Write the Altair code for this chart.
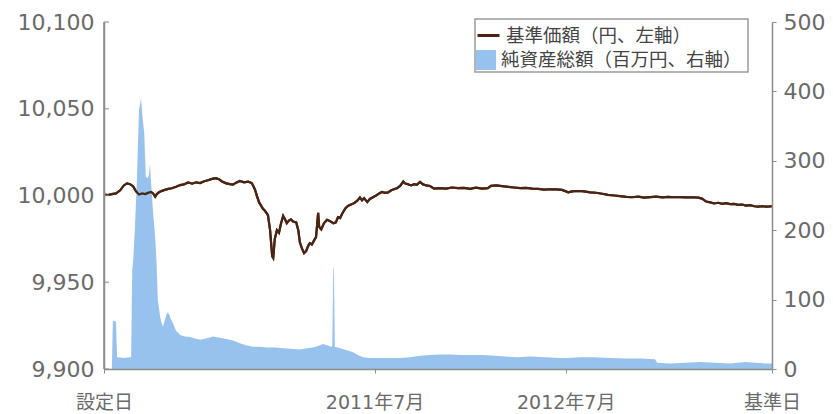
import altair as alt
import pandas as pd

# ---- data (x = days elapsed since 設定日) ----
price_day = [0, 8, 15, 23, 31, 38, 44, 50, 56, 61, 67, 73, 79, 84, 90, 94, 98, 101, 107, 115,
             123, 130, 138, 146, 153, 161, 169, 176, 184, 192, 199, 207, 214, 220, 226, 234, 241, 247, 253, 260,
             268, 276, 283, 289, 293, 297, 301, 304, 308, 312, 314, 318, 322, 324, 327, 331, 335, 339, 343, 347,
             350, 354, 358, 362, 368, 372, 375, 379, 383, 387, 391, 394, 398, 402, 406, 410, 412, 416, 421, 427,
             433, 439, 444, 448, 452, 456, 462, 467, 473, 479, 485, 490, 494, 498, 504, 509, 515, 521, 527, 532,
             538, 544, 550, 555, 561, 567, 573, 576, 582, 588, 594, 599, 605, 611, 617, 624, 632, 643, 655, 666,
             678, 689, 701, 712, 724, 735, 741, 751, 762, 774, 785, 797, 808, 820, 831, 843, 854, 866, 877, 889,
             896, 908, 919, 931, 942, 954, 965, 977, 988, 1000, 1011, 1023, 1034, 1046, 1057, 1069, 1080, 1092, 1103, 1115,
             1126, 1138, 1145, 1153, 1161, 1168, 1176, 1184, 1191, 1199, 1207, 1214, 1222, 1229, 1237, 1245, 1252, 1260, 1268, 1275,
             1279]
price_value = [10000.5, 10000.3, 10000.8, 10001.2, 10003.0, 10005.8, 10007.0, 10006.5, 10005.2, 10002.6,
               10000.6, 10001.2, 10000.8, 10001.5, 10002.0, 10001.2, 9999.3, 10000.8, 10002.2, 10003.1,
               10003.8, 10004.2, 10005.0, 10006.0, 10006.4, 10007.5, 10006.8, 10007.6, 10007.2, 10008.2,
               10008.8, 10009.6, 10010.0, 10009.4, 10008.1, 10007.0, 10006.6, 10006.3, 10007.4, 10008.4,
               10007.6, 10008.0, 10007.2, 10003.5, 9999.5, 9996.0, 9994.0, 9992.5, 9991.2, 9989.5,
               9988.5, 9980.0, 9965.0, 9964.0, 9975.0, 9980.0, 9978.5, 9984.0, 9988.2, 9986.0,
               9984.0, 9985.5, 9986.2, 9985.0, 9984.5, 9980.0, 9973.0, 9969.5, 9966.8, 9968.0,
               9971.0, 9972.5, 9971.8, 9974.0, 9976.0, 9990.0, 9982.0, 9980.5, 9984.0, 9986.0,
               9985.2, 9984.0, 9984.5, 9987.5, 9987.0, 9989.5, 9992.5, 9994.0, 9994.8, 9995.6,
               9997.0, 9998.8, 9997.2, 9998.5, 9996.2, 9998.0, 9999.0, 10000.0, 10001.2, 10002.0,
               10001.5, 10001.8, 10003.0, 10003.6, 10004.2, 10005.5, 10008.0, 10007.0, 10006.5, 10005.8,
               10006.5, 10006.2, 10007.8, 10006.4, 10005.8, 10005.5, 10004.0, 10004.2, 10004.0, 10004.6,
               10004.2, 10004.4, 10003.8, 10004.5, 10004.0, 10004.2, 10005.6, 10005.8, 10005.4, 10005.0,
               10004.6, 10004.2, 10004.4, 10004.0, 10003.8, 10003.4, 10003.6, 10003.5, 10003.2, 10001.8,
               10002.4, 10002.6, 10002.4, 10001.8, 10001.6, 10001.0, 10000.4, 10000.0, 9999.6, 9999.2,
               9999.0, 9999.3, 9998.8, 9999.1, 9999.3, 9998.9, 9999.2, 9999.0, 9999.1, 9998.9,
               9999.0, 9998.8, 9998.2, 9996.5, 9996.0, 9995.4, 9995.8, 9995.2, 9995.6, 9995.0,
               9995.2, 9994.6, 9994.8, 9994.2, 9994.4, 9993.8, 9993.6, 9993.8, 9993.6, 9993.7,
               9993.8]

nav_day = [15, 17, 23, 25, 38, 50, 52, 54, 56, 59, 63, 67, 71, 73, 75, 77, 79, 80, 84, 86,
           88, 90, 92, 94, 98, 101, 103, 107, 109, 113, 117, 121, 124, 128, 132, 138, 146, 155, 165, 174,
           184, 195, 209, 222, 236, 247, 260, 274, 285, 299, 312, 327, 343, 356, 375, 389, 400, 410, 419, 429,
           435, 437, 439, 440, 442, 452, 465, 477, 486, 496, 509, 529, 548, 567, 586, 605, 624, 643, 663, 682,
           701, 726, 749, 768, 791, 816, 845, 873, 887, 912, 940, 969, 998, 1026, 1055, 1059, 1084, 1113, 1141, 1170,
           1199, 1228, 1247, 1266, 1279]
nav_value = [0, 70, 68, 17, 16, 17, 18, 143, 157, 200, 272, 373, 390, 370, 354, 340, 300, 277, 275, 280,
             295, 270, 248, 225, 190, 147, 99, 78, 70, 61, 72, 81, 80, 72, 66, 55, 49, 47, 46, 44,
             42, 44, 47, 45, 43, 41, 37, 34, 32, 32, 31, 31, 30, 29, 28, 30, 31, 33, 36, 34,
             32, 33, 146, 146, 32, 30, 27, 24, 20, 17, 16, 16, 16, 16, 17, 19, 20, 21, 21, 20,
             20, 20, 19, 18, 17, 18, 17, 16, 16, 17, 17, 16, 15, 15, 14, 9, 8, 9, 10, 9,
             8, 10, 9, 8, 8]

series_names = ["基準価額（円、左軸）", "純資産総額（百万円、右軸）"]
x_tick_values = [0, 518, 884, 1279]
x_tick_labels = ["設定日", "2011年7月", "2012年7月", "基準日"]
left_ticks = [9900, 9950, 10000, 10050, 10100]
right_ticks = [0, 100, 200, 300, 400, 500]

price_df = pd.DataFrame({"day": price_day, "value": price_value, "series": series_names[0]})
nav_df = pd.DataFrame({"day": nav_day, "value": nav_value, "series": series_names[1]})
left_tick_df = pd.DataFrame({"value": left_ticks})

label_expr = "'" + x_tick_labels[-1] + "'"
for v, lab in reversed(list(zip(x_tick_values[:-1], x_tick_labels[:-1]))):
    label_expr = f"datum.value == {v} ? '{lab}' : ({label_expr})"

NUM_FONT = "DejaVu Sans, Noto Sans CJK JP"
AX_GRAY = "#8c8c8c"
LAB_GRAY = "#6a6a6a"
W, H = 668, 347

x_enc = alt.X("day:Q",
              scale=alt.Scale(domain=[x_tick_values[0], x_tick_values[-1]], nice=False, zero=False),
              axis=alt.Axis(values=x_tick_values, labelExpr=label_expr, title=None, grid=False,
                            labelFlush=False, labelOverlap=False, labelFont=NUM_FONT,
                            labelFontSize=19, labelColor=LAB_GRAY, labelPadding=20,
                            domain=True, domainColor=AX_GRAY, domainWidth=1.5,
                            tickColor=AX_GRAY, tickSize=4, zindex=1))

price_scale = alt.Scale(domain=[left_ticks[0], left_ticks[-1]], nice=False, zero=False)
stroke_enc = alt.Stroke("series:N", scale=alt.Scale(domain=[series_names[0]], range=["#4a2412"]),
                        legend=alt.Legend(orient="none", legendX=372, legendY=1, title=None,
                                          symbolType="stroke", symbolSize=484, symbolStrokeWidth=3,
                                          labelFont="Noto Sans CJK JP", labelFontSize=18.5,
                                          labelColor="#444444", labelLimit=400, labelOffset=5, padding=0))

# left axis carrier (same line, drawn underneath)
line_axis = alt.Chart(price_df).mark_line(strokeWidth=2.2).encode(
    x=x_enc,
    y=alt.Y("value:Q", scale=price_scale,
            axis=alt.Axis(orient="left", values=left_ticks, format=",d", title=None, grid=False,
                          labelFont=NUM_FONT, labelFontSize=22, labelColor=LAB_GRAY, labelPadding=10,
                          domain=True, domainColor=AX_GRAY, domainWidth=1.5,
                          ticks=False, zindex=1)),
    stroke=stroke_enc,
)

area = alt.Chart(nav_df).mark_area(opacity=1, interpolate="linear").encode(
    x=x_enc,
    y=alt.Y("value:Q", scale=alt.Scale(domain=[right_ticks[0], right_ticks[-1]], nice=False),
            axis=alt.Axis(orient="right", values=right_ticks, title=None, grid=False,
                          labelFont=NUM_FONT, labelFontSize=22, labelColor=LAB_GRAY, labelPadding=7,
                          domain=True, domainColor=AX_GRAY, domainWidth=1.5,
                          tickColor=AX_GRAY, tickSize=4, zindex=1)),
    fill=alt.Fill("series:N", scale=alt.Scale(domain=[series_names[1]], range=["#98c2ee"]),
                  legend=alt.Legend(orient="none", legendX=372, legendY=28, title=None,
                                    symbolType="square", symbolSize=400, symbolStrokeWidth=0,
                                    labelFont="Noto Sans CJK JP", labelFontSize=18.5, labelColor="#444444",
                                    labelLimit=400, labelOffset=5, padding=0)),
)

line_top = alt.Chart(price_df).mark_line(strokeWidth=2.2).encode(
    x=x_enc,
    y=alt.Y("value:Q", scale=price_scale, axis=None),
    stroke=stroke_enc,
)

# left axis line and short inward ticks
left_domain = alt.Chart(pd.DataFrame({"k": [0]})).mark_rule(color=AX_GRAY, strokeWidth=1.5).encode(
    x=alt.value(0), y=alt.value(0), y2=alt.value(H))
left_tick_marks = alt.Chart(left_tick_df).mark_tick(color=AX_GRAY, thickness=1.5, size=5,
                                                    orient="horizontal").encode(
    y=alt.Y("value:Q", scale=price_scale, axis=None), x=alt.value(2.5))

frame = alt.Chart(pd.DataFrame({"k": [0]})).mark_rect(fill="white", stroke="#9a9a9a", strokeWidth=1.5).encode(
    x=alt.value(371), x2=alt.value(644), y=alt.value(-3), y2=alt.value(50))

chart = alt.layer(line_axis, area, line_top, left_domain, left_tick_marks, frame).resolve_scale(
    y="independent").properties(
    width=W, height=H, autosize="none",
    padding={"left": 104, "top": 22, "right": 61, "bottom": 45},
).configure_view(stroke=None)

chart.save("out.html", embed_options={"renderer": "svg", "actions": False})
